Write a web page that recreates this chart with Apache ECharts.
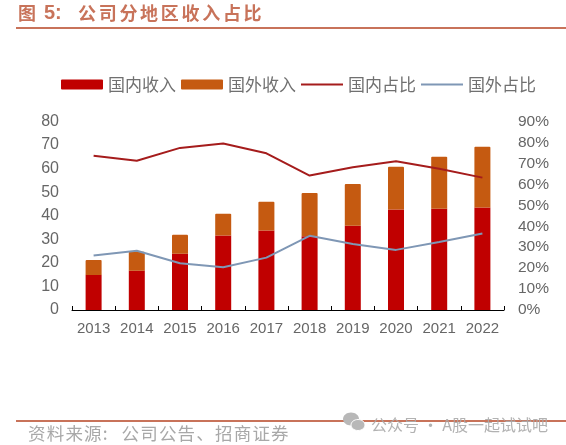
<!DOCTYPE html>
<html><head><meta charset="utf-8">
<script src="https://cdn.jsdelivr.net/npm/echarts@6/dist/echarts.min.js"></script>
<style>html,body{margin:0;padding:0;background:#fff}#c{width:566px;height:445px}</style>
</head><body><div id="c"></div>
<script>
const years=['2013','2014','2015','2016','2017','2018','2019','2020','2021','2022'];
const domesticRevenue=[14.9,16.7,23.9,31.6,33.7,31.3,35.8,42.6,43.0,43.5];
const overseasRevenue=[6.3,8.0,8.0,9.2,12.2,18.4,17.7,18.2,22.0,25.8];
const domesticShare=[73.7,71.3,77.4,79.5,74.8,64.2,68.2,71.0,67.4,63.2];
const overseasShare=[26.0,28.3,22.3,20.4,25.0,35.4,31.5,28.7,32.5,36.5];
const titleLabel='图 5:';
const titleText='公司分地区收入占比';
const sourceText='资料来源:公司公告、招商证券';
const watermarkText='公众号 · A股一起试试吧';
const cjk='"Noto Sans CJK SC","Liberation Sans",sans-serif';
const latin='"Liberation Sans",Arial,sans-serif';
const accent='#C8735A';
const barIcon='path://M1 0H41Q42 0 42 1V9Q42 10 41 10H1Q0 10 0 9V1Q0 0 1 0Z';
const lineIcon='path://M0 4H40V6H0Z';
function spaced(text,x,cy,step,font){
  return Array.from(text).map((ch,i)=>({type:'text',x:x+i*step,y:cy,z:5,
    style:Object.assign({text:ch,verticalAlign:'middle',align:'left'},font)}));
}
const chart=echarts.init(document.getElementById('c'),null,{renderer:'canvas'});
chart.setOption({
  animation:false,
  backgroundColor:'#fff',
  legend:{
    left:56,top:71,itemWidth:42,itemHeight:10,itemGap:5,
    textStyle:{fontFamily:cjk,fontSize:17,color:'#707070'},
    data:[
      {name:'国内收入',icon:barIcon},
      {name:'国外收入',icon:barIcon},
      {name:'国内占比',icon:lineIcon},
      {name:'国外占比',icon:lineIcon}
    ]
  },
  grid:{left:72,right:62,top:121.5,height:188.5},
  xAxis:{
    type:'category',data:years,
    axisLine:{lineStyle:{color:'#000',width:1}},
    axisTick:{show:true,inside:true,length:4,lineStyle:{color:'#000'}},
    axisLabel:{interval:0,fontFamily:latin,fontSize:15,color:'#666',margin:11}
  },
  yAxis:[
    {type:'value',min:0,max:80,interval:10,splitLine:{show:false},axisLine:{show:false},axisTick:{show:false},
     axisLabel:{fontFamily:latin,fontSize:16,color:'#666',margin:13,padding:[2,0,0,0]}},
    {type:'value',min:0,max:90,interval:10,splitLine:{show:false},axisLine:{show:false},axisTick:{show:false},
     axisLabel:{fontFamily:latin,fontSize:15.5,color:'#666',margin:14,padding:[2,0,0,0],formatter:'{value}%'}}
  ],
  series:[
    {name:'国内收入',type:'bar',stack:'r',data:domesticRevenue,barWidth:16,itemStyle:{color:'#C00000'}},
    {name:'国外收入',type:'bar',stack:'r',data:overseasRevenue,barWidth:16,itemStyle:{color:'#C55A11',borderRadius:[1,1,0,0]}},
    {name:'国内占比',type:'line',yAxisIndex:1,data:domesticShare,symbol:'none',lineStyle:{color:'#A51C1C',width:2},itemStyle:{color:'#A51C1C'}},
    {name:'国外占比',type:'line',yAxisIndex:1,data:overseasShare,symbol:'none',lineStyle:{color:'#7F97B5',width:2},itemStyle:{color:'#7F97B5'}}
  ],
  graphic:[
    {type:'text',x:18,y:13,style:{text:titleLabel.slice(0,1),verticalAlign:'middle',fontFamily:cjk,fontSize:18,fontWeight:'bold',fill:accent}},
    {type:'text',x:44,y:13,style:{text:titleLabel.slice(2),verticalAlign:'middle',fontFamily:latin,fontSize:20,fontWeight:'bold',fill:accent}},
    ...spaced(titleText,78,13,20.7,{fontFamily:cjk,fontSize:18,fontWeight:'bold',fill:accent}),
    {type:'rect',shape:{x:16,y:27,width:550,height:2},style:{fill:accent}},
    {type:'rect',shape:{x:16,y:420,width:550,height:2},style:{fill:accent}},
    ...spaced(sourceText,28,433,18.7,{fontFamily:cjk,fontSize:17.5,fill:'#a8a8a8'}),
    {type:'ellipse',z:6,shape:{cx:351,cy:419,rx:8,ry:6.5},style:{fill:'#b8b8b8'}},
    {type:'ellipse',z:6,shape:{cx:358,cy:425,rx:7,ry:5.5},style:{fill:'#b8b8b8',stroke:'#fff',lineWidth:1}},
    {type:'text',x:371,y:424.5,z:6,style:{text:watermarkText,verticalAlign:'middle',fontFamily:cjk,fontSize:16,fill:'rgba(170,170,170,0.9)'}}
  ]
});
</script></body></html>
